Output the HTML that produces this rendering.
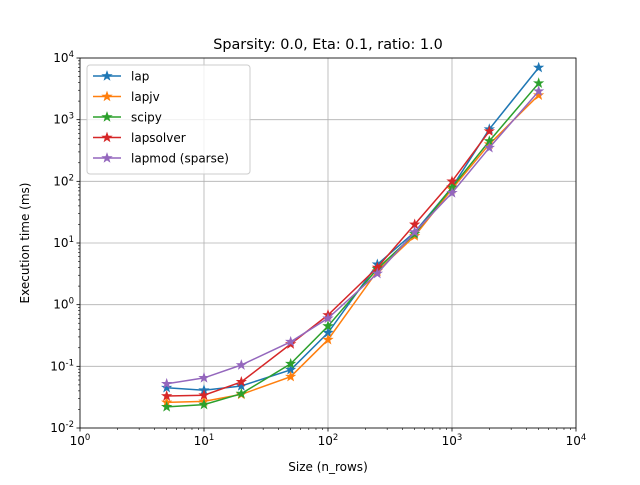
<!DOCTYPE html>
<html><head><meta charset="utf-8"><style>
body{margin:0;background:#fff;font-family:"Liberation Sans","DejaVu Sans",sans-serif}
svg text{font-family:"DejaVu Sans","Liberation Sans",sans-serif}
</style></head><body>
<svg id="c" width="640" height="480" xmlns="http://www.w3.org/2000/svg"></svg>
<script>
const xs=[5,10,20,50,100,250,500,1000,2000,5000];
const lapVals=[0.045,0.041,0.048,0.088,0.35,4.5,15,80,700,7000];
const lapjvVals=[0.026,0.027,0.035,0.068,0.27,3.5,13,75,400,2500];
const scipyVals=[0.022,0.024,0.036,0.11,0.45,3.8,14,80,450,3900];
const lapsolverVals=[0.033,0.034,0.056,0.23,0.68,4,20,100,650];
const lapmodVals=[0.052,0.065,0.105,0.25,0.6,3.2,15,65,350,2900];
const seriesNames=["lap","lapjv","scipy","lapsolver","lapmod (sparse)"];
const colors=["#1f77b4","#ff7f0e","#2ca02c","#d62728","#9467bd"];
const xTicks=[0,1,2,3,4];
const yTicks=[-2,-1,0,1,2,3,4];
const L=80,R=576,T=58,B=428;
const X=v=>L+(Math.log10(v)-0)/4*(R-L);
const Y=v=>B-(Math.log10(v)+2)/6*(B-T);
const svg=document.getElementById('c');
const NS="http://www.w3.org/2000/svg";
function mk(t,a,p){const e=document.createElementNS(NS,t);for(const k in a)e.setAttribute(k,a[k]);(p||svg).appendChild(e);return e;}
let e;
e=mk('rect',{x:L,y:T,width:R-L,height:B-T,fill:'#fff'});


xTicks.forEach(p=>{const x=X(Math.pow(10,p));
 e=mk('line',{x1:x,x2:x,y1:T,y2:B,stroke:'#b0b0b0','stroke-width':0.8});
 
 
 mk('line',{x1:x,x2:x,y1:B,y2:B+3.5,stroke:'#000','stroke-width':0.8});
 e=mk('text',{x:x,y:B+17,'font-size':12,'text-anchor':'middle'});e.innerHTML='10<tspan dy="-5" font-size="8.5">'+p+'</tspan>';
 
 
 for(let m=2;m<10&&p<4;m++){const xm=X(m*Math.pow(10,p));mk('line',{x1:xm,x2:xm,y1:B,y2:B+2,stroke:'#000','stroke-width':0.6});}
});
yTicks.forEach(p=>{const y=Y(Math.pow(10,p));
 e=mk('line',{x1:L,x2:R,y1:y,y2:y,stroke:'#b0b0b0','stroke-width':0.8});
 
 
 mk('line',{x1:L-3.5,x2:L,y1:y,y2:y,stroke:'#000','stroke-width':0.8});
 e=mk('text',{x:L-6,y:y+4,'font-size':12,'text-anchor':'end'});e.innerHTML='10<tspan dy="-5" font-size="8.5">'+p+'</tspan>';
 
 
 for(let m=2;m<10&&p<4;m++){const ym=Y(m*Math.pow(10,p));mk('line',{x1:L-2,x2:L,y1:ym,y2:ym,stroke:'#000','stroke-width':0.6});}
});
function star(cx,cy,r,col,parent){let pts=[];for(let i=0;i<10;i++){const a=-Math.PI/2+i*Math.PI/5,rr=i%2?r*0.4:r;pts.push((cx+rr*Math.cos(a)).toFixed(1)+','+(cy+rr*Math.sin(a)).toFixed(1));}
 return mk('polygon',{points:pts.join(' '),fill:col,stroke:col,'stroke-width':0.6},parent);}
const all=[lapVals,lapjvVals,scipyVals,lapsolverVals,lapmodVals];
all.forEach((vals,i)=>{const g=mk('g',{});
 
 
 const d=vals.map((v,j)=>(j?'L':'M')+X(xs[j]).toFixed(1)+','+Y(v).toFixed(1)).join('');
 mk('path',{d:d,fill:'none',stroke:colors[i],'stroke-width':1.5},g);
 vals.forEach((v,j)=>{const s=star(X(xs[j]),Y(v),5,colors[i],g);
  
  });
});
e=mk('rect',{x:L,y:T,width:R-L,height:B-T,fill:'none',stroke:'#000','stroke-width':0.8});


e=mk('text',{x:(L+R)/2,y:49,'font-size':14.4,'text-anchor':'middle'});e.textContent='Sparsity: 0.0, Eta: 0.1, ratio: 1.0';


e=mk('text',{x:(L+R)/2,y:471,'font-size':12,'text-anchor':'middle'});e.textContent='Size (n_rows)';


e=mk('text',{x:29,y:(T+B)/2,'font-size':12,'text-anchor':'middle',transform:'rotate(-90 29 '+(T+B)/2+')'});e.textContent='Execution time (ms)';


const lg=mk('g',{});


mk('rect',{x:87,y:65,width:163,height:109,rx:3,fill:'#fff','fill-opacity':0.8,stroke:'#ccc'},lg);
seriesNames.forEach((n,i)=>{const y=76+i*20.5;
 const g=mk('g',{},lg);
 
 
 mk('line',{x1:93,x2:121,y1:y,y2:y,stroke:colors[i],'stroke-width':1.5},g);
 star(107,y,5,colors[i],g);
 const t=mk('text',{x:131,y:y+4.5,'font-size':12},g);t.textContent=n;});
</script>
</body></html>
